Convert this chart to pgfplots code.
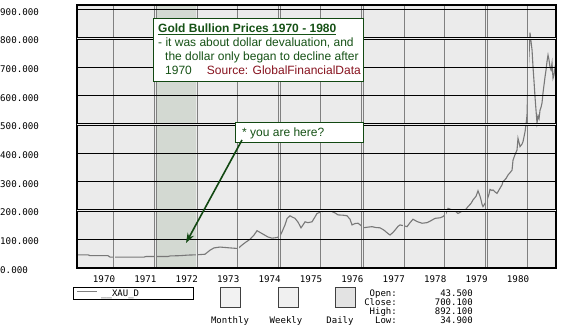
\documentclass[border=0pt]{standalone}
\usepackage{fontspec}
\usepackage{pgfplots}
\pgfplotsset{compat=1.18}
\usetikzlibrary{arrows.meta}
\setmainfont{Liberation Sans}
\newfontfamily\monof{DejaVu Sans Mono}
\definecolor{plotbg}{RGB}{235,235,235}
\definecolor{shade}{RGB}{211,217,210}
\definecolor{dgreen}{RGB}{18,72,18}
\definecolor{tgreen}{RGB}{22,82,22}
\definecolor{sred}{RGB}{135,18,30}
\definecolor{gridgray}{RGB}{128,128,128}
\definecolor{linegray}{RGB}{120,120,120}
\begin{document}
\begin{tikzpicture}[x=1pt,y=1pt]
\begin{axis}[
  at={(77pt,67pt)}, anchor=south west,
  scale only axis, width=479pt, height=263pt,
  xmin=1969.106, xmax=1980.676, ymin=0, ymax=916.4,
  axis background/.style={fill=plotbg},
  axis line style={black, line width=1.3pt},
  axis on top,
  major tick length=0pt,
  xtick={1970,1971,1972,1973,1974,1975,1976,1977,1978,1979,1980},
  xticklabels={1970,1971,1972,1973,1974,1975,1976,1977,1978,1979,1980},
  ytick={0,100,200,300,400,500,600,700,800,900},
  yticklabels={0.000,100.000,200.000,300.000,400.000,500.000,600.000,700.000,800.000,900.000},
  extra y ticks={200,500,800},
  extra y tick labels={},
  extra y tick style={grid style={gridgray, line width=0.7pt, double=white!85!gray, double distance=0.9pt}},
  grid=major,
  x grid style={gridgray, line width=0.7pt, double=white!85!gray, double distance=0.9pt},
  y grid style={black, line width=1pt},
  yticklabel style={font=\monof\fontsize{9.2}{10}\selectfont, anchor=west, inner sep=0pt, xshift=-77pt, yshift=-2pt},
  xticklabel style={font=\monof\fontsize{9.2}{10}\selectfont, anchor=north, inner sep=0pt, xshift=-10pt, yshift=-7pt},
]
\addplot[draw=none, fill=shade] coordinates {(1971,0) (1971,916.4) (1972,916.4) (1972,0)} \closedcycle;
\addplot[linegray, line width=1.1pt] coordinates {
(1969.106,46) (1969.372,46) (1969.420,43) (1969.855,43) (1969.903,38) (1970.725,38) (1970.773,40)
(1971.304,40) (1971.353,42) (1971.594,43) (1971.787,45) (1972.005,46) (1972.198,48) (1972.319,62)
(1972.415,70) (1972.560,73) (1972.802,70) (1972.995,68) (1973.092,80) (1973.164,88) (1973.285,100)
(1973.382,115) (1973.454,130) (1973.527,124) (1973.599,118) (1973.720,108) (1973.816,104) (1973.937,106)
(1974.010,112) (1974.058,126) (1974.130,150) (1974.179,172) (1974.251,182) (1974.300,178) (1974.372,173)
(1974.444,160) (1974.517,140) (1974.565,150) (1974.614,161) (1974.686,158) (1974.783,161) (1974.855,178)
(1974.903,190) (1974.976,194) (1975.024,196) (1975.097,200) (1975.169,202) (1975.242,198) (1975.338,192)
(1975.411,185) (1975.531,184) (1975.628,182) (1975.700,170) (1975.749,150) (1975.821,155) (1975.894,156)
(1975.966,148) (1976.014,140) (1976.111,142) (1976.232,144) (1976.329,141) (1976.425,140) (1976.498,134)
(1976.546,129) (1976.618,120) (1976.667,115) (1976.739,124) (1976.787,132) (1976.860,145) (1976.908,150)
(1977.005,147) (1977.077,144) (1977.150,158) (1977.222,170) (1977.319,162) (1977.440,156) (1977.560,158)
(1977.657,165) (1977.754,173) (1977.874,175) (1977.947,179) (1978.019,190) (1978.068,208) (1978.116,205)
(1978.188,202) (1978.261,196) (1978.309,190) (1978.382,196) (1978.430,200) (1978.502,205) (1978.551,214)
(1978.623,225) (1978.671,237) (1978.744,250) (1978.792,269) (1978.841,250) (1978.865,237) (1978.889,222)
(1978.913,214) (1978.961,225) (1979.010,237) (1979.058,258) (1979.082,274) (1979.130,270) (1979.155,272)
(1979.203,265) (1979.251,260) (1979.324,278) (1979.372,290) (1979.396,301) (1979.469,312) (1979.517,324)
(1979.565,332) (1979.614,341) (1979.638,376) (1979.686,395) (1979.734,411) (1979.758,452) (1979.807,423)
(1979.855,432) (1979.879,440) (1979.928,475) (1979.952,500) (1979.976,533) (1980.000,666) (1980.024,740)
(1980.048,820) (1980.072,790) (1980.097,760) (1980.121,700) (1980.145,650) (1980.169,596) (1980.193,550)
(1980.217,505) (1980.242,530) (1980.266,520) (1980.290,550) (1980.314,560) (1980.338,575) (1980.362,610)
(1980.411,666) (1980.435,690) (1980.459,720) (1980.483,742) (1980.507,725) (1980.531,700) (1980.556,690)
(1980.580,714) (1980.604,661) (1980.628,672) (1980.652,700) (1980.676,714)
};
\end{axis}
% annotation box 1
\draw[dgreen, line width=1pt, fill=white] (153,253) rectangle (363,316);
\begin{scope}[every node/.style={inner sep=0pt, text=tgreen, font=\fontsize{12}{14}\selectfont}]
\node[anchor=base west, font=\fontsize{12}{14}\selectfont\bfseries] at (158,302) {\underline{Gold Bullion Prices 1970 - 1980}};
\node[anchor=base west] at (158,288) {- it was about dollar devaluation, and};
\node[anchor=base west] at (165,274) {the dollar only began to decline after};
\node[anchor=base west] at (165,260) {1970};
\node[anchor=base east, text=sred] at (361,260) {Source: GlobalFinancialData};
\end{scope}
% annotation box 2 and arrow
\draw[dgreen, line width=1pt, fill=white] (235,192) rectangle (363,212);
\node[anchor=base west, inner sep=0pt, text=tgreen, font=\fontsize{12}{14}\selectfont] at (242,198) {* you are here?};
\draw[dgreen, line width=1.6pt, -{Stealth[length=10pt,width=7pt]}] (242,195) -- (186,92);
% legend box
\draw[black, fill=white, line width=0.8pt] (73,36) rectangle (193,48);
\draw[gridgray, line width=0.6pt, double=white, double distance=0.8pt] (77,43) -- (97,43);
\node[anchor=base west, inner sep=0pt, font=\monof\fontsize{9}{9}\selectfont] at (101,39) {\_\_XAU\_D};
% period boxes
\draw[fill=black!5, draw=black!75, line width=0.7pt] (220,28) rectangle (240,48);
\draw[fill=black!6, draw=black!75, line width=0.7pt] (278,28) rectangle (298,48);
\draw[fill=black!11, draw=black!75, line width=0.7pt] (335,28) rectangle (355,48);
\begin{scope}[every node/.style={inner sep=0pt, anchor=base, font=\monof\fontsize{9}{9}\selectfont}]
\node at (230,12) {Monthly};
\node at (286,12) {Weekly};
\node at (340,12) {Daily};
\end{scope}
% stats
\begin{scope}[every node/.style={inner sep=0pt, anchor=base east, font=\monof\fontsize{9}{9}\selectfont}]
\node at (397,39) {Open:};
\node at (397,30) {Close:};
\node at (397,21) {High:};
\node at (397,12) {Low:};
\node at (473,39) {43.500};
\node at (473,30) {700.100};
\node at (473,21) {892.100};
\node at (473,12) {34.900};
\end{scope}
\pgfresetboundingbox
\path[use as bounding box] (0,0) rectangle (575,335);
\end{tikzpicture}
\end{document}
